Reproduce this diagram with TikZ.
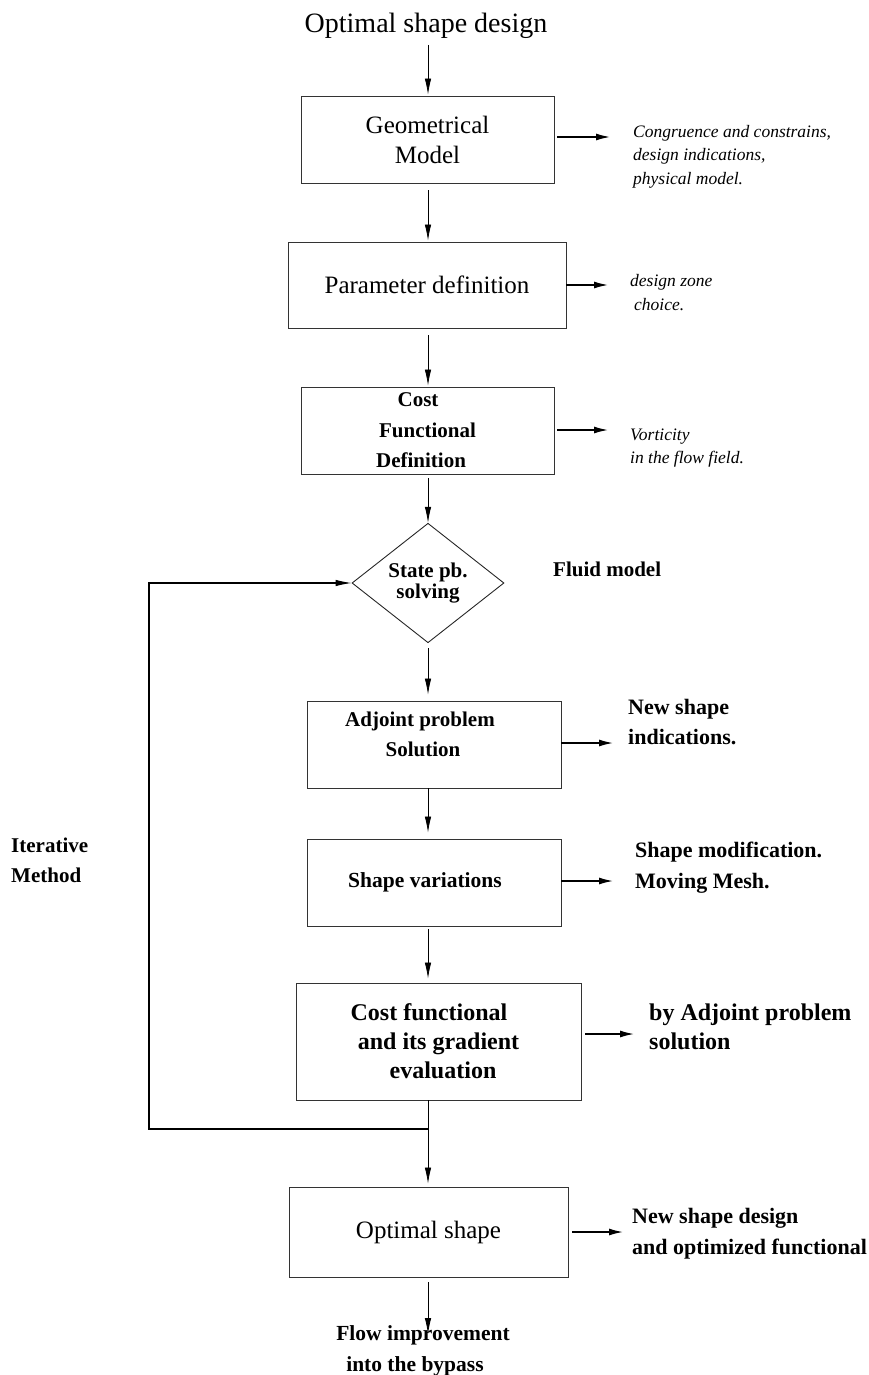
\documentclass[tikz,border=0pt]{standalone}
\usepackage{fontspec}
\setmainfont{Liberation Serif}
\usetikzlibrary{arrows.meta,shapes.geometric}

\tikzset{
  stepbox/.style={draw=black!80, line width=0.9pt, rectangle, inner sep=0pt, align=center, font=\fontsize{25}{30}\selectfont},
  boldbox/.style={stepbox, font=\bfseries\fontsize{21}{30}\selectfont},
  flowarrow/.style={-{Latex[length=16pt,width=6.5pt]}, line width=0.8pt},
  sidearrow/.style={-{Latex[length=14pt,width=7pt]}, line width=1.4pt},
  italnote/.style={anchor=west, align=left, inner sep=0pt, font=\itshape\fontsize{17.5}{23.5}\selectfont},
  boldnote/.style={anchor=west, align=left, inner sep=0pt, font=\bfseries\fontsize{22}{30.5}\selectfont},
}

\begin{document}
\begin{tikzpicture}[x=1pt,y=-1pt]
  %%%%% START %%%%%
  \useasboundingbox (0,0) rectangle (869,1375);
  \coordinate (axis) at (428,0);

  \node[inner sep=0pt, font=\fontsize{28}{32}\selectfont] (title) at (426,26) {Optimal shape design};

  % main boxes
  \node[stepbox, minimum width=253, minimum height=87] (geom) at (427.5,139.5) {Geometrical\\Model};
  \node[stepbox, minimum width=278, minimum height=86] (param) at (427,285) {Parameter definition};
  \node[boldbox, minimum width=253, minimum height=87, font=\bfseries\fontsize{21}{30.5}\selectfont] (cost) at (427.5,430.5) {Cost\hspace*{19pt}\\Functional\hspace*{13pt}\\Definition\hspace*{13pt}};
  \node[draw=black!85, line width=0.9pt, diamond, inner sep=0pt, minimum width=152, minimum height=113, align=center, font=\bfseries\fontsize{21}{21}\selectfont] (state) at (428,583) {State pb.\\solving};
  \node[boldbox, minimum width=254, minimum height=87, text depth=21pt] (adjoint) at (434,744.5) {Adjoint problem\hspace*{28pt}\\Solution\hspace*{22pt}};
  \node[boldbox, minimum width=254, minimum height=87, font=\bfseries\fontsize{21.5}{30}\selectfont] (shapevar) at (434,882.5) {Shape variations\hspace{18pt}};
  \node[boldbox, minimum width=285, minimum height=117, font=\bfseries\fontsize{24}{29}\selectfont] (costgrad) at (438.5,1041.5) {Cost functional\hspace*{19pt}\\and its gradient\hspace*{17pt}\\\hspace*{9pt}evaluation};
  \node[stepbox, minimum width=279, minimum height=90] (optimal) at (428.5,1232) {Optimal shape};
  \node[inner sep=0pt, align=center, font=\bfseries\fontsize{21.5}{31}\selectfont] (flow) at (423,1350.5) {Flow improvement\\into the bypass\hspace*{16pt}};

  % side notes
  \node[italnote] (geomnote) at (633,156.5) {Congruence and constrains,\\design indications,\\physical model.};
  \node[italnote, font=\itshape\fontsize{17.5}{24}\selectfont] (paramnote) at (630,293) {design zone\\\hspace*{4pt}choice.};
  \node[italnote, font=\itshape\fontsize{17.5}{23}\selectfont] (costnote) at (630,448.5) {Vorticity\\in the flow field.};
  \node[boldnote, font=\bfseries\fontsize{21}{30}\selectfont] (fluidnote) at (553,569) {Fluid model};
  \node[boldnote] (adjnote) at (628,722) {New shape\\indications.};
  \node[boldnote] (shapenote) at (635,867.5) {Shape modification.\\Moving Mesh.};
  \node[boldnote, font=\bfseries\fontsize{24}{29}\selectfont] (gradnote) at (649,1026.5) {by Adjoint problem\\solution};
  \node[boldnote] (optnote) at (632,1233.5) {New shape design\\and optimized functional};
  \node[boldnote, font=\bfseries\fontsize{21}{30}\selectfont] (iternote) at (11,860) {Iterative\\Method};

  % vertical flow
  \draw[flowarrow, shorten <=6pt, shorten >=1pt] (title.south -| axis) -- (geom.north -| axis);
  \draw[flowarrow, shorten <=7pt, shorten >=1pt] (geom.south -| axis) -- (param.north -| axis);
  \draw[flowarrow, shorten <=7pt, shorten >=1pt] (param.south -| axis) -- (cost.north -| axis);
  \draw[flowarrow, shorten <=4pt] (cost.south -| axis) -- (state.north);
  \draw[flowarrow, shorten <=5pt, shorten >=6pt] (state.south) -- (adjoint.north -| axis);
  \draw[flowarrow, shorten >=6pt] (adjoint.south -| axis) -- (shapevar.north -| axis);
  \draw[flowarrow, shorten <=3pt, shorten >=4pt] (shapevar.south -| axis) -- (costgrad.north -| axis);
  \draw[flowarrow, shorten >=3pt] (costgrad.south -| axis) -- (optimal.north -| axis);
  \coordinate (flowtip) at (428,1334);
  \draw[flowarrow, shorten <=5pt] (optimal.south -| axis) -- (flowtip);

  % iteration loop
  \coordinate (junc) at (428,1129);
  \coordinate (loopcorner) at (149,1129);
  \draw[flowarrow, line width=1.1pt] (junc) -- (loopcorner) |- (state.west);

  % side arrows
  \coordinate (geomtip) at (610,137);
  \coordinate (paramtip) at (608,285);
  \coordinate (costtip) at (608,430);
  \coordinate (adjtip) at (613,743);
  \coordinate (shapetip) at (613,881);
  \coordinate (gradtip) at (634,1034);
  \coordinate (opttip) at (623,1232);
  \draw[sidearrow, shorten <=3pt] (geom.east |- geomtip) -- (geomtip);
  \draw[sidearrow] (param.east |- paramtip) -- (paramtip);
  \draw[sidearrow, shorten <=3pt] (cost.east |- costtip) -- (costtip);
  \draw[sidearrow] (adjoint.east |- adjtip) -- (adjtip);
  \draw[sidearrow] (shapevar.east |- shapetip) -- (shapetip);
  \draw[sidearrow, shorten <=4pt] (costgrad.east |- gradtip) -- (gradtip);
  \draw[sidearrow, shorten <=4pt] (optimal.east |- opttip) -- (opttip);
  %%%%% END %%%%%
\end{tikzpicture}
\end{document}
